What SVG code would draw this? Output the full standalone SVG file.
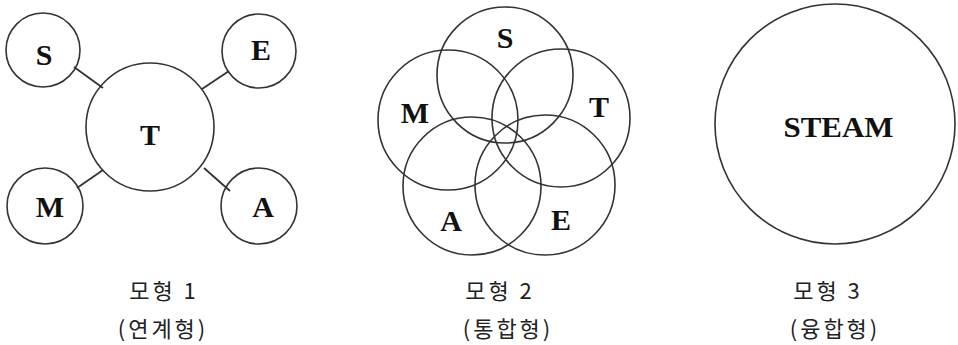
<svg xmlns="http://www.w3.org/2000/svg" width="958" height="345" viewBox="0 0 958 345">
<style>
.c{fill:none;stroke:#333;stroke-width:1.6}
.l{stroke:#333;stroke-width:1.8}
.t{font-family:"Liberation Serif","DejaVu Serif",serif;font-weight:bold;font-size:30px;fill:#111;text-anchor:middle}
.k{font-family:"Noto Sans CJK KR",sans-serif;font-size:22px;fill:#222;text-anchor:middle;letter-spacing:3px}
</style>
<rect width="958" height="345" fill="#fff"/>
<g id="connectors">
<line class="l" x1="74" y1="67" x2="103" y2="88"/>
<line class="l" x1="229" y1="71" x2="202" y2="89"/>
<line class="l" x1="77" y1="188" x2="103" y2="170"/>
<line class="l" x1="204" y1="168" x2="230" y2="191"/>
</g>
<g id="m1-T"><circle class="c" cx="150" cy="127" r="64"/><text class="t" x="150" y="145">T</text></g>
<g id="m1-S"><circle class="c" cx="43" cy="50" r="37"/><text class="t" x="44" y="65">S</text></g>
<g id="m1-E"><circle class="c" cx="259" cy="51" r="37"/><text class="t" x="261" y="60">E</text></g>
<g id="m1-M"><circle class="c" cx="45" cy="206" r="38"/><text class="t" x="50" y="217">M</text></g>
<g id="m1-A"><circle class="c" cx="259" cy="206" r="38"/><text class="t" x="263" y="217">A</text></g>
<g id="m2-S"><circle class="c" cx="505" cy="75" r="68"/><text class="t" x="505" y="48">S</text></g>
<g id="m2-M"><circle class="c" cx="448" cy="120" r="70"/><text class="t" x="415" y="123">M</text></g>
<g id="m2-T"><circle class="c" cx="561" cy="118" r="69"/><text class="t" x="599" y="117">T</text></g>
<g id="m2-A"><circle class="c" cx="472" cy="186" r="69"/><text class="t" x="451" y="231">A</text></g>
<g id="m2-E"><circle class="c" cx="545" cy="185" r="70"/><text class="t" x="561" y="230">E</text></g>
<g id="m3-STEAM"><circle class="c" cx="835" cy="124" r="120"/><text class="t" x="838.5" y="137" textLength="110" lengthAdjust="spacingAndGlyphs">STEAM</text></g>
<g id="labels">
<text class="k" x="164" y="299">모형 1</text>
<text class="k" x="163" y="337">(연계형)</text>
<text class="k" x="500" y="299">모형 2</text>
<text class="k" x="508" y="337">(통합형)</text>
<text class="k" x="828" y="299">모형 3</text>
<text class="k" x="835" y="337">(융합형)</text>
</g>
</svg>
